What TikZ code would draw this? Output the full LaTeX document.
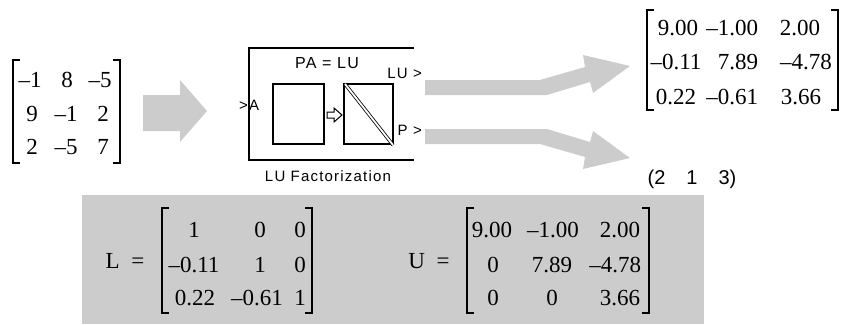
\documentclass[tikz,border=0pt]{standalone}
\usepackage{fontspec}
\setmainfont{Liberation Serif}
\newfontfamily\blockfont[LetterSpace=8]{Liberation Sans}
\newfontfamily\permfont{Liberation Sans}
\definecolor{lightgrey}{RGB}{204,204,204}
\newcommand\matbr[4]{%
  \draw[brk] (#1+7,#3) -- (#1,#3) -- (#1,#4) -- (#1+7,#4);
  \draw[brk] (#2-7,#3) -- (#2,#3) -- (#2,#4) -- (#2-7,#4);}
\tikzset{
  ent/.style={inner sep=0pt, outer sep=0pt, font=\fontsize{23}{23}\selectfont},
  brk/.style={line width=1.5pt, line cap=butt},
  blk/.style={line width=1.5pt},
  btxt/.style={inner sep=0pt, font=\blockfont\fontsize{15}{15}\selectfont},
  bigarrow/.style={fill=lightgrey, draw=none}
}
\begin{document}
\begin{tikzpicture}[x=1pt, y=-1pt]
\useasboundingbox (0,0) rectangle (843,324);

% ---------- input matrix ----------
\matbr{13}{120}{60}{163}
\node[ent] (a11) at (30,80) {–1};
\node[ent] (a12) at (67,80) {8};
\node[ent] (a13) at (100,80) {–5};
\node[ent] (a21) at (32,114) {9};
\node[ent] (a22) at (66,114) {–1};
\node[ent] (a23) at (103,114) {2};
\node[ent] (a31) at (32,147) {2};
\node[ent] (a32) at (66,147) {–5};
\node[ent] (a33) at (103,147) {7};

% ---------- left block arrow ----------
\fill[bigarrow] (143,95) -- (180,95) -- (180,80) -- (207,111) -- (180,142) -- (180,131) -- (143,131) -- cycle;

% ---------- LU factorization block ----------
\draw[blk] (414,48) -- (249,48) -- (249,160) -- (414,160);
\draw[line width=1.4pt] (273,84) rectangle (324,144);
\draw[line width=1.4pt] (344,84) rectangle (393,144);
\draw[line width=0.8pt, double=white, double distance=1.8pt] (345,84) -- (393,145);
\draw[line width=1pt, fill=white] (327,112) -- (334,112) -- (334,108) -- (342,115) -- (334,122) -- (334,118) -- (327,118) -- cycle;
\node[btxt, font=\blockfont\fontsize{16}{16}\selectfont] (eq) at (327,63) {PA = LU};
\node[btxt, anchor=west] (inA) at (239,105) {>A};
\node[btxt, anchor=east] (outLU) at (422,73) {LU >};
\node[btxt, anchor=east] (outP) at (422,130) {P >};
\node[btxt] (title) at (328,176) {LU Factorization};

% ---------- output arrows ----------
\fill[bigarrow] (425,80) -- (540,80) -- (585,67) -- (583,55) -- (630,66) -- (593,93) -- (590,82) -- (547,95) -- (425,95) -- cycle;
\fill[bigarrow] (425,144) -- (540,144) -- (585,157) -- (583,169) -- (630,158) -- (593,131) -- (590,142) -- (547,129) -- (425,129) -- cycle;

% ---------- output LU matrix ----------
\matbr{647}{838}{10}{110}
\node[ent] (b11) at (678,28) {9.00};
\node[ent, anchor=east] (b12) at (758,28) {–1.00};
\node[ent] (b13) at (800,28) {2.00};
\node[ent] (b21) at (676,62) {–0.11};
\node[ent, anchor=east] (b22) at (758,62) {7.89};
\node[ent] (b23) at (806,62) {–4.78};
\node[ent] (b31) at (676,97) {0.22};
\node[ent, anchor=east] (b32) at (758,97) {–0.61};
\node[ent] (b33) at (801,97) {3.66};

% ---------- permutation vector ----------
\node[inner sep=0pt, font=\permfont\fontsize{20}{20}\selectfont] (perm) at (692,179) {(2\hspace{1.05em}1\hspace{1.05em}3)};

% ---------- L and U ----------
\fill[lightgrey] (82,195) rectangle (704,324);
\node[ent] (Llab) at (125,261) {L\enspace=};
\matbr{162}{312}{208}{313}
\node[ent] (l11) at (194,230) {1};
\node[ent] (l12) at (260,230) {0};
\node[ent] (l13) at (300,230) {0};
\node[ent] (l21) at (194,265) {–0.11};
\node[ent] (l22) at (260,265) {1};
\node[ent] (l23) at (300,265) {0};
\node[ent] (l31) at (195,298) {0.22};
\node[ent] (l32) at (257,298) {–0.61};
\node[ent] (l33) at (300,298) {1};

\node[ent] (Ulab) at (429,261) {U\enspace=};
\matbr{467}{649}{208}{313}
\node[ent] (u11) at (492,230) {9.00};
\node[ent] (u12) at (553,230) {–1.00};
\node[ent, anchor=east] (u13) at (640,230) {2.00};
\node[ent] (u21) at (493,265) {0};
\node[ent] (u22) at (552,265) {7.89};
\node[ent, anchor=east] (u23) at (641,265) {–4.78};
\node[ent] (u31) at (493,298) {0};
\node[ent] (u32) at (552,298) {0};
\node[ent, anchor=east] (u33) at (640,298) {3.66};
\end{tikzpicture}
\end{document}
